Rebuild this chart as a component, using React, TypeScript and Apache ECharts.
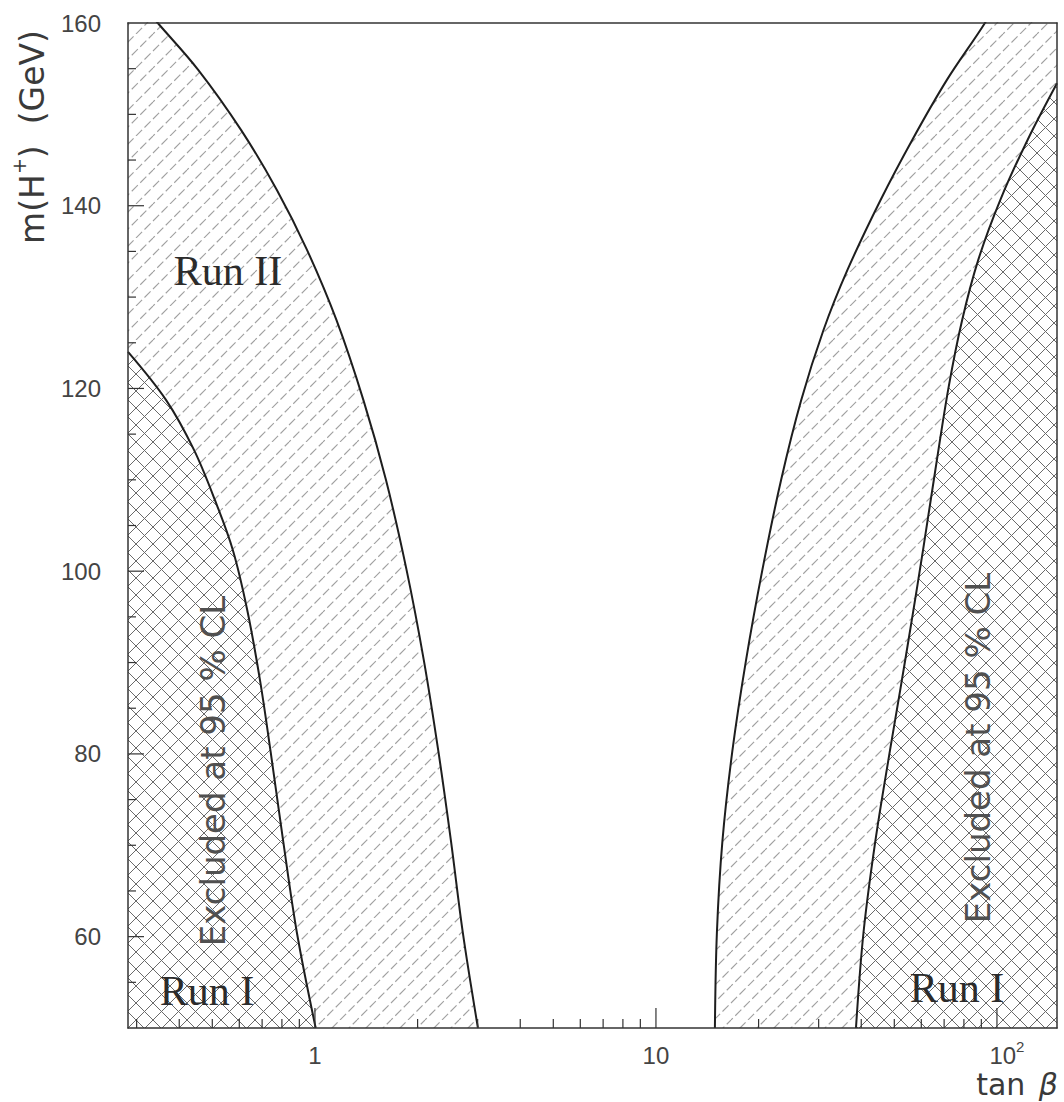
import React, { useEffect, useRef } from 'react';
import * as echarts from 'echarts';

// Axis ranges
const X_MIN = 0.283;
const X_MAX = 150;
const Y_MIN = 50;
const Y_MAX = 160;

// Boundaries of excluded regions: [tan beta, m(H+)] (points above 160 run out of the frame)
const runIILeft: number[][] = [
  [0.283, 163.8], [0.346, 160], [0.454, 154.9], [0.607, 148.3], [0.774, 141.7], [0.947, 135.2],
  [1.156, 127.5], [1.388, 118.7], [1.615, 110.0], [1.855, 100.2], [2.085, 90.3], [2.301, 80.3],
  [2.507, 70.4], [2.715, 60.4], [3.006, 50],
];
const runILeft: number[][] = [
  [0.283, 124.0], [0.3665, 118.7], [0.4415, 113.3], [0.5088, 107.8], [0.5746, 102.3], [0.6335, 95.7],
  [0.6898, 88.1], [0.741, 80.3], [0.8074, 70.4], [0.8856, 60.4], [1.005, 50],
];
const runIIRight: number[][] = [
  [14.89, 50], [15.09, 60.4], [15.66, 70.4], [16.75, 80.3], [18.38, 90.3], [20.53, 100.2],
  [23.29, 110.0], [26.66, 118.7], [31.0, 126.4], [36.47, 133.0], [45.54, 140.6], [56.44, 147.2],
  [71.4, 153.8], [92.2, 160], [150, 172.9],
];
const runIRight: number[][] = [
  [38.6, 50], [40.6, 60.4], [43.97, 70.4], [48.52, 80.3], [52.05, 87.0], [56.3, 94.7],
  [60.7, 102.3], [65.99, 111.1], [72.2, 120.2], [79.07, 127.5], [88.19, 134.1], [102.46, 140.7],
  [122.97, 147.2], [150, 153.4],
];

// Ticks
const xMajorTicks = [1, 10, 100];
const xMinorTicks = [0.3, 0.4, 0.5, 0.6, 0.7, 0.8, 0.9, 2, 3, 4, 5, 6, 7, 8, 9, 20, 30, 40, 50, 60, 70, 80, 90];
const yMajorTicks = [60, 80, 100, 120, 140];
const yMinorTicks = [55, 65, 70, 75, 85, 90, 95, 105, 110, 115, 125, 130, 135, 145, 150, 155];

const SANS = "'Liberation Sans', Arial, sans-serif";
const GEO = "'DejaVu Sans', sans-serif";
const SERIF = "'Liberation Serif', 'Times New Roman', serif";

function svgUrl(svg: string) {
  return 'data:image/svg+xml;charset=utf-8,' + encodeURIComponent(svg);
}

// single "/" dashed hatch: line spacing 17 px, tile 34 px
const hatchSvg =
  "<svg xmlns='http://www.w3.org/2000/svg' width='34' height='34'>" +
  "<rect width='34' height='34' fill='#ffffff'/>" +
  "<path d='M-34,34L0,0M0,34L34,0M34,34L68,0' stroke='#a0a0a0' stroke-width='1.1' stroke-dasharray='8.6 3.4208' fill='none'/>" +
  "<path d='M-17,34L17,0M17,34L51,0' stroke='#a0a0a0' stroke-width='1.1' stroke-dasharray='8.6 3.4208' stroke-dashoffset='6.01' fill='none'/>" +
  '</svg>';

// cross hatch: line spacing 17 px
const crossSvg =
  "<svg xmlns='http://www.w3.org/2000/svg' width='17' height='17'>" +
  "<rect width='17' height='17' fill='#ffffff'/>" +
  "<path d='M-17,17L0,0M0,17L17,0M17,17L34,0M-17,0L0,17M0,0L17,17M17,0L34,17' stroke='#6a6a6a' stroke-width='1' fill='none'/>" +
  '</svg>';

const hatchPattern: any = { image: svgUrl(hatchSvg), repeat: 'repeat', imageWidth: 34, imageHeight: 34 };
const crossPattern: any = { image: svgUrl(crossSvg), repeat: 'repeat', imageWidth: 17, imageHeight: 17 };

function areaSeries(data: number[][], pattern: any, z: number) {
  return {
    type: 'line',
    data,
    symbol: 'none',
    showSymbol: false,
    smooth: 0.35,
    silent: true,
    z,
    lineStyle: { color: '#1e1e1e', width: 2 },
    areaStyle: { color: pattern, opacity: 1, origin: 'start' },
  };
}

function tickSeries(data: number[][], kind: 'x' | 'y', len: number) {
  return {
    type: 'custom',
    coordinateSystem: 'cartesian2d',
    silent: true,
    clip: false,
    z: 6,
    data,
    renderItem: (_params: any, api: any) => {
      const p = api.coord([api.value(0), api.value(1)]);
      const shape =
        kind === 'x'
          ? { x1: p[0], y1: p[1], x2: p[0], y2: p[1] - len }
          : { x1: p[0], y1: p[1], x2: p[0] + len, y2: p[1] };
      return { type: 'line', shape, style: { stroke: '#333333', lineWidth: 1.2 } };
    },
  };
}

export default function App() {
  const ref = useRef<HTMLDivElement>(null);
  useEffect(() => {
    document.body.style.margin = '0';
    document.body.style.background = '#ffffff';
    const chart = echarts.init(ref.current!, null, { renderer: 'svg' });
    const axisLine = { show: true, onZero: false, lineStyle: { color: '#333333', width: 1.5 } };
    const option: any = {
      animation: false,
      backgroundColor: '#ffffff',
      grid: { left: 128, right: 7, top: 23, bottom: 74, containLabel: false, outerBoundsMode: 'none' },
      xAxis: [
        {
          type: 'log',
          logBase: 10,
          min: X_MIN,
          max: X_MAX,
          z: 10,
          axisLine,
          axisTick: { show: false },
          splitLine: { show: false },
          minorTick: { show: false },
          axisLabel: {
            margin: 11,
            formatter: (v: number) => {
              const e = Math.log10(v);
              const r = Math.round(e);
              if (Math.abs(e - r) > 1e-6) return '';
              if (r === 0) return '{a|1}';
              if (r === 1) return '{a|10}';
              if (r === 2) return '{b|10}{s|2}';
              return '';
            },
            rich: {
              a: { fontSize: 24, fontFamily: SANS, color: '#444444', lineHeight: 28, verticalAlign: 'bottom' },
              b: { fontSize: 24, fontFamily: SANS, color: '#444444', lineHeight: 28, verticalAlign: 'bottom', padding: [0, 0, 0, 20] },
              s: { fontSize: 15, fontFamily: SANS, color: '#444444', lineHeight: 28, verticalAlign: 'top' },
            },
          },
        },
        {
          type: 'log',
          logBase: 10,
          min: X_MIN,
          max: X_MAX,
          position: 'top',
          z: 10,
          axisLine,
          axisTick: { show: false },
          axisLabel: { show: false },
          splitLine: { show: false },
        },
      ],
      yAxis: [
        {
          type: 'value',
          min: Y_MIN,
          max: Y_MAX,
          interval: 10,
          z: 10,
          axisLine,
          axisTick: { show: false },
          splitLine: { show: false },
          axisLabel: {
            margin: 27,
            fontSize: 24,
            fontFamily: SANS,
            color: '#444444',
            formatter: (v: number) => (v % 20 === 0 && v >= 60 ? String(v) : ''),
          },
        },
        {
          type: 'value',
          min: Y_MIN,
          max: Y_MAX,
          position: 'right',
          z: 10,
          axisLine,
          axisTick: { show: false },
          axisLabel: { show: false },
          splitLine: { show: false },
        },
      ],
      series: [
        areaSeries(runIILeft, hatchPattern, 2),
        areaSeries(runIIRight, hatchPattern, 2),
        areaSeries(runILeft, crossPattern, 3),
        areaSeries(runIRight, crossPattern, 3),
        tickSeries(xMajorTicks.map((v) => [v, Y_MIN]), 'x', 20),
        tickSeries(xMinorTicks.map((v) => [v, Y_MIN]), 'x', 9),
        tickSeries(yMajorTicks.map((v) => [X_MIN, v]), 'y', 16),
        tickSeries(yMinorTicks.map((v) => [X_MIN, v]), 'y', 8),
      ],
      graphic: [
        {
          type: 'text', x: 228, y: 271, z: 20, silent: true,
          style: { text: 'Run II', fontSize: 42, fontFamily: SERIF, fill: '#2b2b2b', align: 'center', verticalAlign: 'middle' },
        },
        {
          type: 'text', x: 207, y: 991, z: 20, silent: true,
          style: { text: 'Run I', fontSize: 42, fontFamily: SERIF, fill: '#2b2b2b', align: 'center', verticalAlign: 'middle' },
        },
        {
          type: 'text', x: 957, y: 988, z: 20, silent: true,
          style: { text: 'Run I', fontSize: 42, fontFamily: SERIF, fill: '#2b2b2b', align: 'center', verticalAlign: 'middle' },
        },
        {
          type: 'text', x: 213, y: 771, rotation: Math.PI / 2, z: 20, silent: true,
          style: { text: 'Excluded at 95 % CL', fontSize: 34, fontFamily: GEO, fill: '#505050', align: 'center', verticalAlign: 'middle' },
        },
        {
          type: 'text', x: 978, y: 748, rotation: Math.PI / 2, z: 20, silent: true,
          style: { text: 'Excluded at 95 % CL', fontSize: 34, fontFamily: GEO, fill: '#505050', align: 'center', verticalAlign: 'middle' },
        },
        {
          type: 'text', x: 1058, y: 1084, z: 20, silent: true,
          style: {
            text: '{t|tan }{g|β}',
            align: 'right',
            verticalAlign: 'middle',
            rich: {
              t: { fontSize: 30, fontFamily: GEO, fill: '#3a3a3a', lineHeight: 30 },
              g: { fontSize: 30, fontFamily: GEO, fontStyle: 'italic', fill: '#3a3a3a', lineHeight: 30, padding: [0, 0, 0, 4] },
            },
          },
        },
        {
          type: 'text', x: 29, y: 137, rotation: Math.PI / 2, z: 20, silent: true,
          style: {
            text: '{a|m(H}{s|+}{a|)  (GeV)}',
            align: 'center',
            verticalAlign: 'middle',
            rich: {
              a: { fontSize: 33, fontFamily: GEO, fill: '#3a3a3a', lineHeight: 40, verticalAlign: 'bottom' },
              s: { fontSize: 19, fontFamily: GEO, fill: '#3a3a3a', lineHeight: 40, verticalAlign: 'top' },
            },
          },
        },
      ],
    };
    chart.setOption(option);
    return () => chart.dispose();
  }, []);
  return <div ref={ref} style={{ width: 1064, height: 1102 }} />;
}
